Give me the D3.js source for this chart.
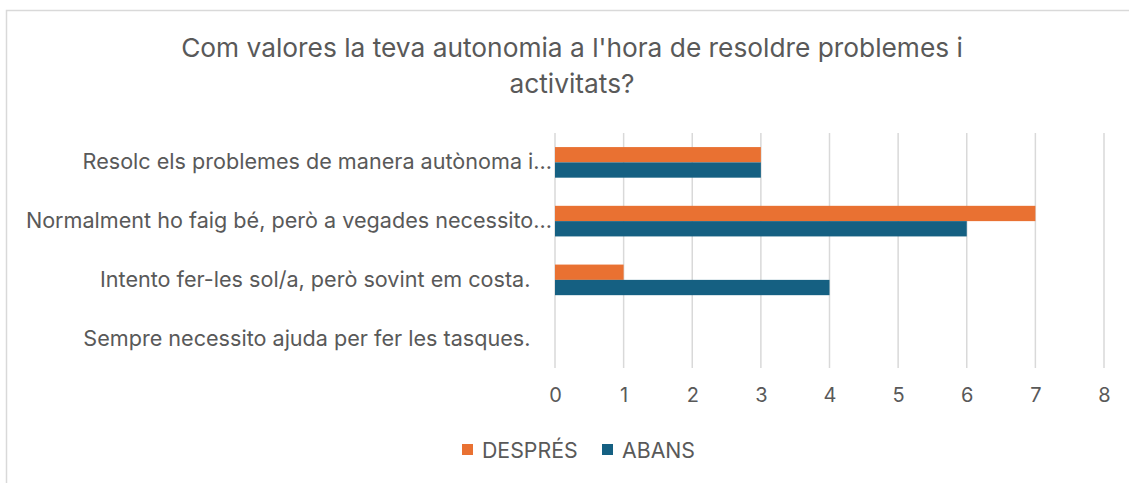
<!DOCTYPE html>
<html><head><meta charset="utf-8">
<script src="https://cdn.jsdelivr.net/npm/d3@7"></script>
<style>body{margin:0;background:#fff}svg{display:block}text{white-space:pre}</style>
</head><body><svg id="c" width="1129" height="483"></svg>
<script>
const categories = [
  "Resolc els problemes de manera autònoma i...",
  "Normalment ho faig bé, però a vegades necessito...",
  "Intento fer-les sol/a, però sovint em costa. ",
  "Sempre necessito ajuda per fer les tasques. "
];
const seriesNames = ["DESPRÉS", "ABANS"];
const despres = [3, 7, 1, 0];
const abans = [3, 6, 4, 0];
const ticks = [0,1,2,3,4,5,6,7,8];
const titleLines = ["Com valores la teva autonomia a l'hora de resoldre problemes i", "activitats?"];
const colors = ["#E97132", "#156082"];

const svg = d3.select("#c");
const font = "Inter, sans-serif";
svg.append("rect").attr("x",6.5).attr("y",10.5).attr("width",1140).attr("height",500)
  .attr("fill","#fff").attr("stroke","#D9D9D9").attr("stroke-width",1.5);

svg.selectAll("text.title").data(titleLines).enter().append("text")
  .attr("x",572).attr("y",(d,i)=>57+i*36).attr("text-anchor","middle")
  .attr("font-family",font).attr("font-size",26.3).attr("fill","#595959").text(d=>d);

const x = d3.scaleLinear().domain([0,8]).range([555,1104]);
const y = d3.scaleBand().domain(categories).range([133,368]);
const inner = d3.scaleBand().domain(seriesNames).range([0,y.bandwidth()]).paddingInner(0).paddingOuter(0.92);

const g = svg.append("g");
g.selectAll("line.grid").data(ticks).enter().append("line")
  .attr("x1",d=>x(d)).attr("x2",d=>x(d)).attr("y1",133).attr("y2",368)
  .attr("stroke","#D9D9D9").attr("stroke-width",1.5);

const data = seriesNames.flatMap((s,si)=>categories.map((c,ci)=>({s,c,v:(si===0?despres:abans)[ci],si})));
g.selectAll("rect.bar").data(data).enter().append("rect")
  .attr("x",x(0)).attr("y",d=>y(d.c)+inner(d.s))
  .attr("width",d=>x(d.v)-x(0)).attr("height",inner.bandwidth())
  .attr("fill",d=>colors[d.si]);

const xAxis = svg.append("g").attr("transform","translate(0,368)")
  .call(d3.axisBottom(x).tickValues(ticks).tickSize(0).tickPadding(20));
xAxis.select(".domain").remove();
xAxis.selectAll("text").attr("font-family",font).attr("font-size",20).attr("fill","#595959");

const yAxis = svg.append("g").attr("transform","translate(555,0)")
  .call(d3.axisLeft(y).tickSize(0).tickPadding(3).tickFormat(d=>d.endsWith(" ")?d.trimEnd()+"\u2003":d));
yAxis.select(".domain").remove();
yAxis.selectAll("text").attr("font-family",font).attr("font-size",21.6).attr("fill","#595959");

const leg = svg.append("g");
const lx = [462, 602];
seriesNames.forEach((s,i)=>{
  leg.append("rect").attr("x",lx[i]).attr("y",444).attr("width",11).attr("height",11).attr("fill",colors[i]);
  leg.append("text").attr("x",lx[i]+20).attr("y",458).attr("font-family",font).attr("font-size",21.3).attr("fill","#595959").text(s);
});
</script></body></html>
